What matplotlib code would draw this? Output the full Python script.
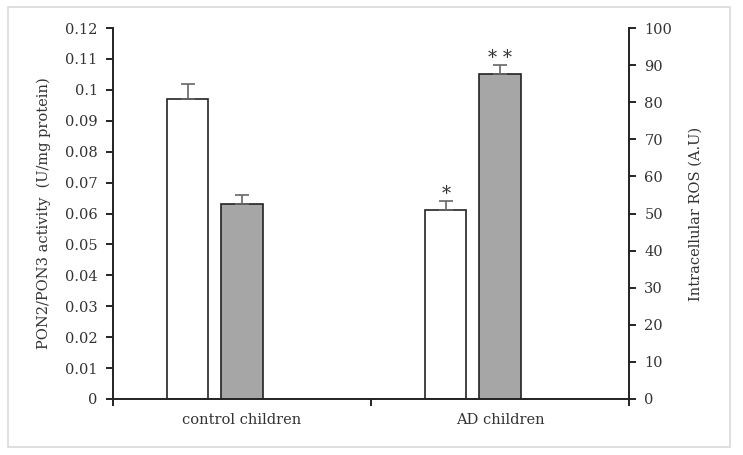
import numpy as np
import matplotlib.pyplot as plt
from matplotlib.patches import Rectangle

plt.rcParams['font.family'] = ['DejaVu Serif']

groups = ['control children', 'AD children']
pon_activity = [0.097, 0.061]      # left axis, white bars
pon_err = [0.005, 0.003]
ros = [52.5, 87.5]                 # right axis, grey bars
ros_err = [2.5, 2.6]
pon_marks = ['', '*']
ros_marks = ['', '* *']

x = np.arange(len(groups))
w = 0.16

fig = plt.figure(figsize=(7.43, 4.55), dpi=100)
ax = fig.add_axes([113/743, 1 - 399/455, (629-113)/743, (399-28)/455])
ax2 = ax.twinx()

ax.bar(x - 0.21, pon_activity, w, color='white', edgecolor='#222222', linewidth=1.2, zorder=2)
ax.errorbar(x - 0.21, pon_activity, yerr=[[0, 0], pon_err], fmt='none',
            ecolor='#666666', elinewidth=1.2, capsize=5, capthick=1.2, zorder=3)
ax2.bar(x, ros, w, color='#a6a6a6', edgecolor='#222222', linewidth=1.2, zorder=2)
ax2.errorbar(x, ros, yerr=[[0, 0], ros_err], fmt='none',
             ecolor='#666666', elinewidth=1.2, capsize=5, capthick=1.2, zorder=3)

for xi, v, e, m in zip(x - 0.21, pon_activity, pon_err, pon_marks):
    if m:
        ax.text(xi, v + e - 0.0006, m, ha='center', va='bottom', fontsize=13, color='#333333')
for xi, v, e, m in zip(x, ros, ros_err, ros_marks):
    if m:
        ax2.text(xi, v + e - 0.5, m, ha='center', va='bottom', fontsize=13, color='#333333')

ax.set_xlim(-0.5, 1.5)
ax.set_ylim(0, 0.12)
ax.set_yticks(np.arange(0, 0.121, 0.01))
ax.set_yticklabels(['0'] + ['%g' % round(v, 2) for v in np.arange(0.01, 0.121, 0.01)])
ax2.set_ylim(0, 100)
ax2.set_yticks(np.arange(0, 101, 10))

ax.set_xticks([-0.5, 0.5, 1.5])
ax.set_xticklabels([])
ax.set_xticks(x, minor=True)
ax.set_xticklabels(groups, minor=True, fontsize=10.5, color='#333333')
ax.tick_params(axis='x', which='minor', length=0, pad=10)
ax.tick_params(axis='x', which='major', length=5, width=1.2, direction='out')

for a in (ax, ax2):
    a.spines['top'].set_visible(False)
    for s in ('left', 'right', 'bottom'):
        a.spines[s].set_linewidth(1.2)
        a.spines[s].set_color('#222222')
ax.tick_params(axis='y', length=5, width=1.2, labelsize=10.5, labelcolor='#333333', pad=6)
ax2.tick_params(axis='y', length=5, width=1.2, labelsize=10.5, labelcolor='#333333', pad=6)

ax.set_ylabel('PON2/PON3 activity  (U/mg protein)', fontsize=10.5, color='#333333', labelpad=10)
ax2.set_ylabel('Intracellular ROS (A.U)', fontsize=10.5, color='#333333', labelpad=12)

fig.patches.append(Rectangle((8/743, 1 - 447/455), (730-8)/743, (447-7)/455,
                             transform=fig.transFigure, fill=False,
                             edgecolor='#d9d9d9', linewidth=1.2))

fig.savefig('out.png', dpi=100)
